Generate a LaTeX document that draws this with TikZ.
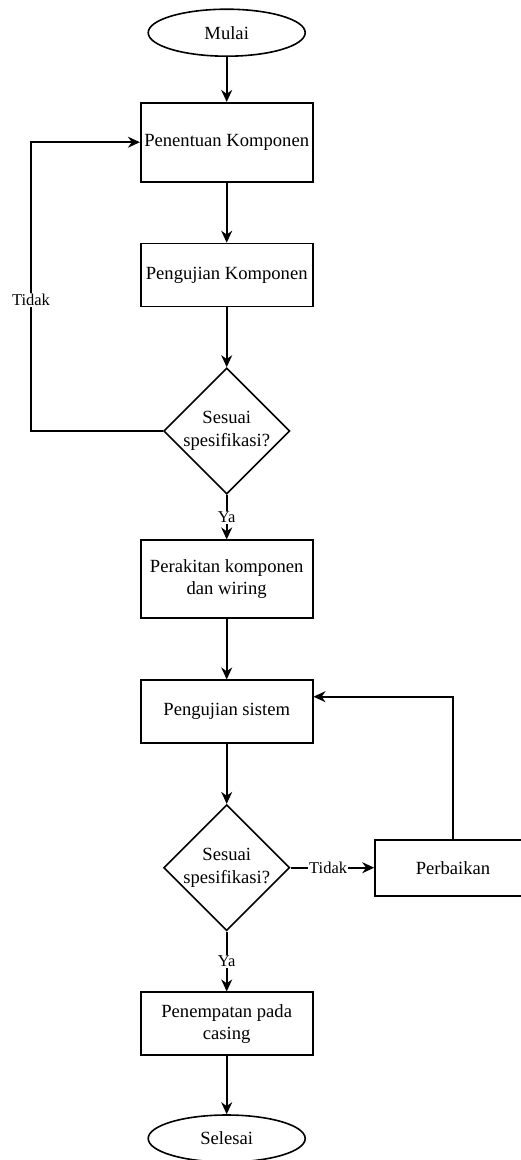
\documentclass[tikz,border=0pt]{standalone}
\usepackage{fontspec}
\setmainfont{Liberation Serif}
\usetikzlibrary{shapes.geometric,arrows.meta}

\begin{document}
\begin{tikzpicture}[
x=1pt, y=1pt, node distance=100pt, line width=1.6pt,
>={Stealth[length=12pt,width=11pt]},
terminal/.style={ellipse, draw, minimum width=157pt, minimum height=47pt, inner sep=0pt, font=\fontsize{18.6}{23}\selectfont},
process/.style={rectangle, draw, minimum width=172pt, minimum height=63pt, inner sep=2pt, align=center, font=\fontsize{18.6}{22}\selectfont},
decision/.style={diamond, draw, minimum width=125pt, minimum height=123pt, inner sep=0pt, align=center, font=\fontsize{18.6}{23}\selectfont},
answer/.style={fill=white, inner sep=1pt, font=\fontsize{16.5}{20}\selectfont}
]
\useasboundingbox (0,0) rectangle (521,-1160);
\clip (0,0) rectangle (521,-1160);
%Nodes
\node[terminal]                        (start) at (226.7,-32.7)                      {Mulai};
\node[process, minimum height=79pt]    (b1)    [below of=start, yshift=-9.5pt]       {Penentuan Komponen};
\node[process]                         (b2)    [below of=b1, yshift=-32.8pt]         {Pengujian Komponen};
\node[decision]                        (d1)    [below of=b2, yshift=-56pt]           {Sesuai\\spesifikasi?};
\node[process, minimum height=78pt]    (b3)    [below of=d1, yshift=-48.2pt]         {Perakitan komponen\\dan wiring};
\node[process]                         (b4)    [below of=b3, yshift=-32.5pt]         {Pengujian sistem};
\node[decision]                        (d2)    [below of=b4, yshift=-56pt]           {Sesuai\\spesifikasi?};
\node[process, minimum width=156pt, minimum height=56pt] (fix) [right of=d2, xshift=126.3pt] {Perbaikan};
\node[process]                         (b5)    [below of=d2, yshift=-56pt]           {Penempatan pada\\casing};
\node[terminal]                        (end)   [below of=b5, yshift=-14.8pt]         {Selesai};
\coordinate (loopl) at (31,-431);
%Lines
\draw[->] (start) -- (b1);
\draw[->] (b1) -- (b2);
\draw[->] (b2) -- (d1);
\draw[->] (d1.west) -- (loopl) |- (b1.west) node [answer, pos=0.227] (no1) {Tidak};
\draw[->] (d1) -- (b3) node [answer, midway] (yes1) {Ya};
\draw[->] (b3) -- (b4);
\draw[->] (b4) -- (d2);
\draw[->] (d2) -- (fix) node [answer, pos=0.45] (no2) {Tidak};
\draw[->] (fix.north) |- ([yshift=15pt]b4.east);
\draw[->] (d2) -- (b5) node [answer, midway] (yes2) {Ya};
\draw[->] (b5) -- (end);
\end{tikzpicture}
\end{document}
